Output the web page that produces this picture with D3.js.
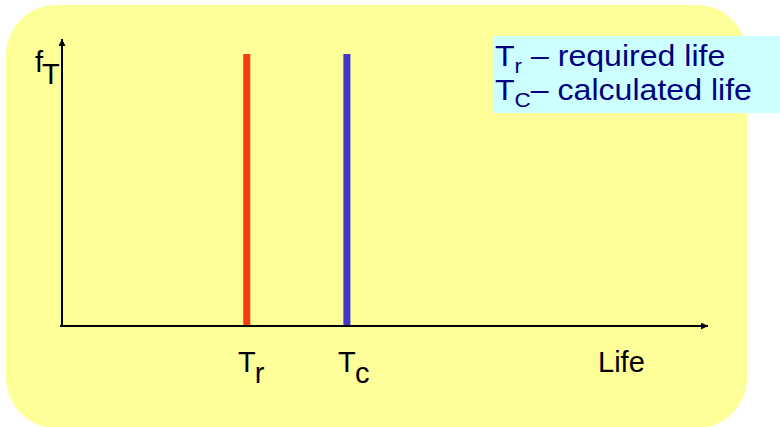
<!DOCTYPE html>
<html>
<head>
<meta charset="utf-8">
<script src="https://cdn.jsdelivr.net/npm/d3@7"></script>
<style>
  html, body { margin: 0; padding: 0; background: #ffffff; }
  svg { display: block; }
  text { font-family: "Liberation Sans", Arial, sans-serif; }
</style>
</head>
<body>
<svg id="chart" width="780" height="427"></svg>
<script>
// Life values marked on the horizontal axis (relative units)
const categories = ["r", "c"];
const lifeValues = [28.6, 44.1];
const densityValues = [1, 1];
const barColors = ["#f53d0f", "#4433cc"];

// Legend entries: main letter, subscript, description
const legendMain = ["T", "T"];
const legendSub = ["r", "C"];
const legendText = [" – required life", "– calculated life"];

const axisLabelX = "Life";
const axisLabelY = ["f", "T"];

const svg = d3.select("#chart");
const W = 780, H = 427;

// Rounded yellow panel
svg.append("rect")
  .attr("x", 6).attr("y", 5)
  .attr("width", 741).attr("height", 423)
  .attr("rx", 50).attr("ry", 50)
  .attr("fill", "#ffff99");

const x0 = 62, x1 = 708, y0 = 326, yTop = 54, yArrow = 39;

const x = d3.scaleLinear().domain([0, 100]).range([x0, x1]);
const y = d3.scaleLinear().domain([0, 1]).range([y0, yTop]);

// Axes with arrowheads
const defs = svg.append("defs");
defs.append("marker")
  .attr("id", "arrow")
  .attr("viewBox", "0 0 10 10")
  .attr("refX", 10).attr("refY", 5)
  .attr("markerWidth", 6).attr("markerHeight", 3.5)
  .attr("markerUnits", "strokeWidth")
  .attr("orient", "auto")
  .append("path")
  .attr("d", "M0,0 L10,5 L0,10 Z")
  .attr("fill", "#000");

svg.append("line")
  .attr("x1", x(0)).attr("y1", y0 + 1)
  .attr("x2", x(0)).attr("y2", yArrow)
  .attr("stroke", "#000").attr("stroke-width", 2)
  .attr("marker-end", "url(#arrow)");

svg.append("line")
  .attr("x1", x(0) - 2).attr("y1", y0)
  .attr("x2", x(100)).attr("y2", y0)
  .attr("stroke", "#000").attr("stroke-width", 2)
  .attr("marker-end", "url(#arrow)");

// Bars for required and calculated life
const barW = 7;
svg.selectAll("rect.bar")
  .data(lifeValues)
  .enter().append("rect")
  .attr("class", "bar")
  .attr("x", d => x(d) - barW / 2)
  .attr("y", (d, i) => y(densityValues[i]))
  .attr("width", barW)
  .attr("height", (d, i) => y(0) - y(densityValues[i]) - 1)
  .attr("fill", (d, i) => barColors[i]);

// Bar labels T_r, T_c centred on each bar
const labelFs = 29;
lifeValues.forEach((v, i) => {
  const g = svg.append("g");
  g.append("text")
    .attr("x", x(v)).attr("y", 372)
    .attr("text-anchor", "middle")
    .attr("font-size", labelFs)
    .attr("fill", "#000")
    .text("T");
  g.append("text")
    .attr("x", x(v) + 8).attr("y", 383)
    .attr("font-size", labelFs)
    .attr("fill", "#000")
    .text(categories[i]);
});

// Horizontal axis title
svg.append("text")
  .attr("x", 598).attr("y", 372)
  .attr("font-size", labelFs)
  .attr("fill", "#000")
  .text(axisLabelX);

// Vertical axis title f_T
svg.append("text")
  .attr("x", 35).attr("y", 72)
  .attr("font-size", labelFs)
  .attr("fill", "#000")
  .text(axisLabelY[0]);
svg.append("text")
  .attr("x", 42).attr("y", 84)
  .attr("font-size", labelFs)
  .attr("fill", "#000")
  .text(axisLabelY[1]);

// Legend box
svg.append("rect")
  .attr("x", 494).attr("y", 36)
  .attr("width", W - 494).attr("height", 77)
  .attr("fill", "#ccffff");

// Legend text, slightly widened horizontally
const legFs = 30;
const legG = svg.append("g")
  .attr("transform", "translate(495,0) scale(1.07,1)");
legendMain.forEach((m, i) => {
  const base = 66 + i * 34;
  const t = legG.append("text")
    .attr("x", 0).attr("y", base)
    .attr("font-size", legFs)
    .attr("fill", "#000080");
  t.append("tspan").text(m);
  t.append("tspan")
    .attr("font-size", 21)
    .attr("dy", 7)
    .text(legendSub[i]);
  t.append("tspan")
    .attr("dy", -7)
    .text(legendText[i]);
});
</script>
</body>
</html>
